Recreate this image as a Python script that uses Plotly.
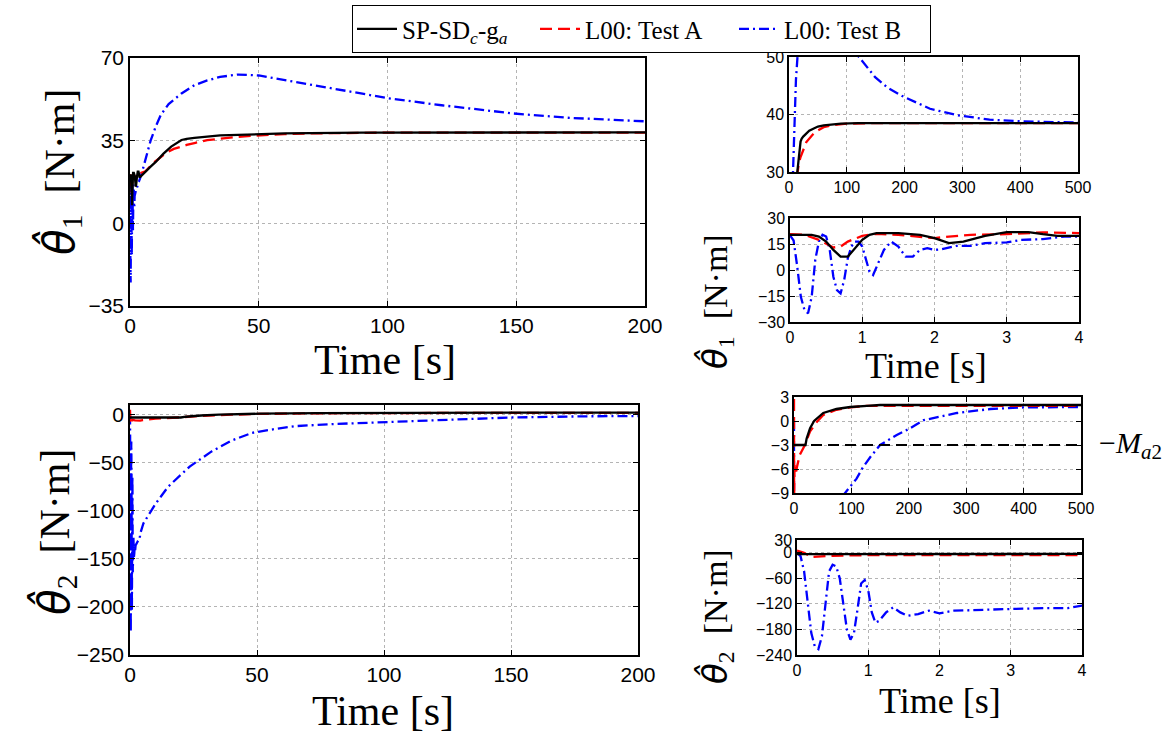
import plotly.graph_objects as go

W, H = 1170, 734

# ---------------- theta_1 estimates ----------------
t1_sp = [0, 0.3, 0.4, 0.5, 0.6, 0.7, 0.8, 0.9, 1.0, 1.1, 1.2, 1.5, 1.8, 2.0, 2.2, 2.4, 2.7, 3.0, 3.3, 3.5, 3.7, 4.0,
         6, 8, 10, 13, 16, 20, 22, 25, 35, 50, 60, 90, 120, 200, 300, 400, 500]
th1_sp = [20.3, 20.3, 19.3, 16.4, 11.6, 7.7, 7.7, 12.6, 17.4, 20.3, 21.3, 21.3, 20.3, 18.4, 15.5, 16.4, 19.7, 21.9, 21.9, 20.7, 19.7, 19.7,
          22, 24, 26, 29.5, 32.5, 35.3, 35.8, 36.2, 37.2, 37.9, 38.1, 38.4, 38.5, 38.5, 38.5, 38.5, 38.5]
t1_a = [0, 0.2, 0.4, 0.6, 0.7, 0.8, 1.0, 1.2, 1.5, 2.0, 2.2, 2.5, 3.0, 3.5, 4.0,
        6, 9, 12, 14, 17, 20, 22, 25, 30, 40, 48, 60, 72, 100, 150, 300, 500]
th1_a = [20.7, 20.3, 17.4, 13.0, 13.5, 16.4, 19.7, 20.9, 20.3, 18.4, 19.3, 20.3, 20.7, 21.7, 21.3,
         22, 25.5, 28, 29.8, 31.5, 32.6, 33.2, 34, 35.2, 36.4, 37.1, 37.8, 38.1, 38.4, 38.5, 38.5, 38.5]
t1_b = [0, 0.05, 0.1, 0.15, 0.2, 0.25, 0.3, 0.35, 0.4, 0.45, 0.5, 0.55, 0.6, 0.65, 0.7, 0.75, 0.8, 0.85, 0.9, 0.95,
        1.0, 1.05, 1.1, 1.15, 1.2, 1.3, 1.4, 1.5, 1.6, 1.7, 1.8, 1.9, 2.0, 2.1, 2.3, 2.5, 2.7, 3.0, 3.2, 3.5, 3.8, 4.0,
        5, 6, 8, 10, 12, 15, 20, 25, 30, 35, 42, 50, 64, 80, 100, 121, 149, 170, 198, 244, 290, 347, 405, 500]
th1_b = [20, 17, 2, -15.5, -23, -25, -15.5, 6, 16.4, 20.3, 19.3, 11.6, -3.9, -11.6, -13.5, -5.8, 6.8, 13.5, 16.4, 16.4,
         13.5, 5.8, -1, -2.9, 1.9, 11.6, 16.4, 13.5, 7.7, 7.7, 11.6, 12.6, 11.6, 12, 13.9, 13.9, 15.5, 15.9, 17.4, 17.8, 19.3, 19.3,
         23, 27, 35, 41, 46, 50.5, 55, 58.5, 60.5, 62, 63, 62.6, 60, 56.8, 53, 50, 46.5, 44.7, 43.1, 41, 39.9, 39.1, 38.8, 38.6]

# ---------------- theta_2 estimates ----------------
t2_sp = [0, 4, 20, 22, 25, 28, 35, 40, 51, 74, 98, 127, 150, 200, 300, 500]
th2_sp = [-3, -3, -3, -2.2, -1.5, -0.9, 0, 0.3, 1, 1.5, 1.75, 1.9, 2, 2, 2, 2]
t2_a = [0, 0.1, 0.2, 0.3, 0.5, 1, 2, 3, 4, 5, 10, 19, 28, 40, 51, 74, 98, 127, 156, 300, 500]
th2_a = [5, 0, -10, -9, -7, -5.5, -6, -6.3, -6.3, -5.8, -4.25, -3, -1.3, -0.1, 0.75, 1.4, 1.7, 1.9, 1.9, 1.9, 1.9]
t2_b = [0, 0.05, 0.1, 0.15, 0.2, 0.25, 0.3, 0.35, 0.4, 0.45, 0.5, 0.55, 0.6, 0.65, 0.7, 0.75, 0.8, 0.85, 0.9, 0.95,
        1.0, 1.05, 1.1, 1.15, 1.25, 1.35, 1.45, 1.55, 1.7, 1.85, 2.0, 2.2, 2.5, 3.0, 3.5, 3.8, 4.0,
        5.3, 10, 15, 23.5, 32, 40, 48, 57, 65, 80, 89, 100, 109, 120, 133, 150, 179, 200, 226, 284, 342, 400, 500]
th2_b = [0, -8, -44, -116, -188, -220, -226, -196, -116, -44, -28, -32, -60, -124, -180, -204, -188, -132, -72, -64,
         -88, -140, -164, -160, -140, -128, -140, -148, -144, -136, -142, -136, -134, -132, -130, -130, -124,
         -113, -93, -75, -54, -38.5, -27, -19, -15, -12, -9.8, -9, -8, -7.2, -5.8, -4.5, -3, -1.75, -1, 0.1, 1, 1.5, 1.7, 1.75]

M_a2 = 3.0
t_ref = [0, 500]

names = ["SP-SD<sub><i>c</i></sub>-g<sub><i>a</i></sub>", "L00: Test A", "L00: Test B"]
colors = ["black", "red", "blue"]
dashes = ["solid", "12px,6px", "10px,4px,2px,4px"]
entry_w = [128, 144, 140]

fig = go.Figure()

panels = [("x", "y", 1), ("x2", "y2", 1), ("x3", "y3", 1),
          ("x4", "y4", 2), ("x5", "y5", 2), ("x6", "y6", 2)]
series = {1: [(t1_sp, th1_sp), (t1_a, th1_a), (t1_b, th1_b)],
          2: [(t2_sp, th2_sp), (t2_a, th2_a), (t2_b, th2_b)]}

for pi, (xa, ya, th) in enumerate(panels):
    for k in [2, 1, 0]:
        tx, vy = series[th][k]
        fig.add_trace(go.Scatter(
            x=tx, y=vy, mode="lines", xaxis=xa, yaxis=ya,
            name=names[k], legendgroup=names[k], showlegend=(pi == 0),
            legendrank=k + 1, legendwidth=entry_w[k],
            line=dict(color=colors[k], width=2.3, dash=dashes[k]),
        ))

fig.add_trace(go.Scatter(x=t_ref, y=[-M_a2, -M_a2], mode="lines", xaxis="x5", yaxis="y5",
                         showlegend=False, line=dict(color="black", width=2, dash="11px,6px")))

def px_dom_x(a, b):
    return [a / W, b / W]

def px_dom_y(top, bottom):
    return [1 - bottom / H, 1 - top / H]

tick_big = dict(family="Liberation Sans, Arial, sans-serif", size=21, color="black")
tick_small = dict(family="Liberation Sans, Arial, sans-serif", size=16, color="black")

def ax(domain, rng, font, tickvals, anchor):
    return dict(domain=domain, range=rng, anchor=anchor, tickvals=tickvals, automargin=False,
                showline=True, mirror="ticks", linecolor="black", linewidth=1.5,
                ticks="inside", ticklen=5, tickcolor="black", tickfont=font,
                showgrid=True, gridcolor="#b4b4b4", griddash="dot", gridwidth=1,
                zeroline=False, fixedrange=True)

layout = dict(
    width=W, height=H, margin=dict(l=0, r=0, t=0, b=0, autoexpand=False),
    paper_bgcolor="white", plot_bgcolor="white",
    showlegend=True,
    legend=dict(orientation="h", x=352 / W, y=1 - 5 / H, xanchor="left", yanchor="top",
                bordercolor="black", borderwidth=1.2, bgcolor="white",
                font=dict(family="Liberation Serif, serif", size=25, color="black"),
                tracegroupgap=0, itemwidth=40),
)
layout["xaxis"] = ax(px_dom_x(130, 645), [0, 200], tick_big, [0, 50, 100, 150, 200], "y")
layout["yaxis"] = ax(px_dom_y(58, 306), [-35, 70], tick_big, [-35, 0, 35, 70], "x")
layout["xaxis2"] = ax(px_dom_x(789, 1078), [0, 500], tick_small, [0, 100, 200, 300, 400, 500], "y2")
layout["yaxis2"] = ax(px_dom_y(57, 172), [30, 50], tick_small, [30, 40, 50], "x2")
layout["xaxis3"] = ax(px_dom_x(790, 1079), [0, 4], tick_small, [0, 1, 2, 3, 4], "y3")
layout["yaxis3"] = ax(px_dom_y(218, 322), [-30, 30], tick_small, [-30, -15, 0, 15, 30], "x3")
layout["xaxis4"] = ax(px_dom_x(130, 638), [0, 200], tick_big, [0, 50, 100, 150, 200], "y4")
layout["yaxis4"] = ax(px_dom_y(405, 655), [-250, 10], tick_big, [-250, -200, -150, -100, -50, 0], "x4")
layout["xaxis5"] = ax(px_dom_x(794, 1081), [0, 500], tick_small, [0, 100, 200, 300, 400, 500], "y5")
layout["yaxis5"] = ax(px_dom_y(397, 493), [-9, 3], tick_small, [-9, -6, -3, 0, 3], "x5")
layout["xaxis6"] = ax(px_dom_x(797, 1082), [0, 4], tick_small, [0, 1, 2, 3, 4], "y6")
layout["yaxis6"] = ax(px_dom_y(540, 655), [-240, 30], tick_small, [-240, -180, -120, -60, 0, 30], "x6")

serif = "Liberation Serif, serif"
def ann(text, x, y, size, angle=0, family=serif):
    return dict(text=text, x=x / W, y=1 - y / H, xref="paper", yref="paper",
                xanchor="center", yanchor="middle", showarrow=False, textangle=angle,
                font=dict(family=family, size=size, color="black"))

hat = "<span style=\"font-family:'DejaVu Sans'\"><i>θ̂</i></span>"
theta1 = hat + "<sub>1</sub>  [N·m]"
theta2 = hat + "<sub>2</sub>  [N·m]"
layout["annotations"] = [
    ann("Time [s]", 385, 360, 42),
    ann("Time [s]", 383, 711, 42),
    ann("Time [s]", 926, 366, 36),
    ann("Time [s]", 940, 701, 36),
    ann(theta1, 60, 172, 42, -90),
    ann(theta2, 55, 532, 42, -90),
    ann(theta1, 716, 302, 34, -90),
    ann(theta2, 716, 617, 34, -90),
    ann("−<i>M</i><sub><i>a</i>2</sub>", 1130, 445, 30),
]

fig.update_layout(**layout)
fig.write_html("out.html")
